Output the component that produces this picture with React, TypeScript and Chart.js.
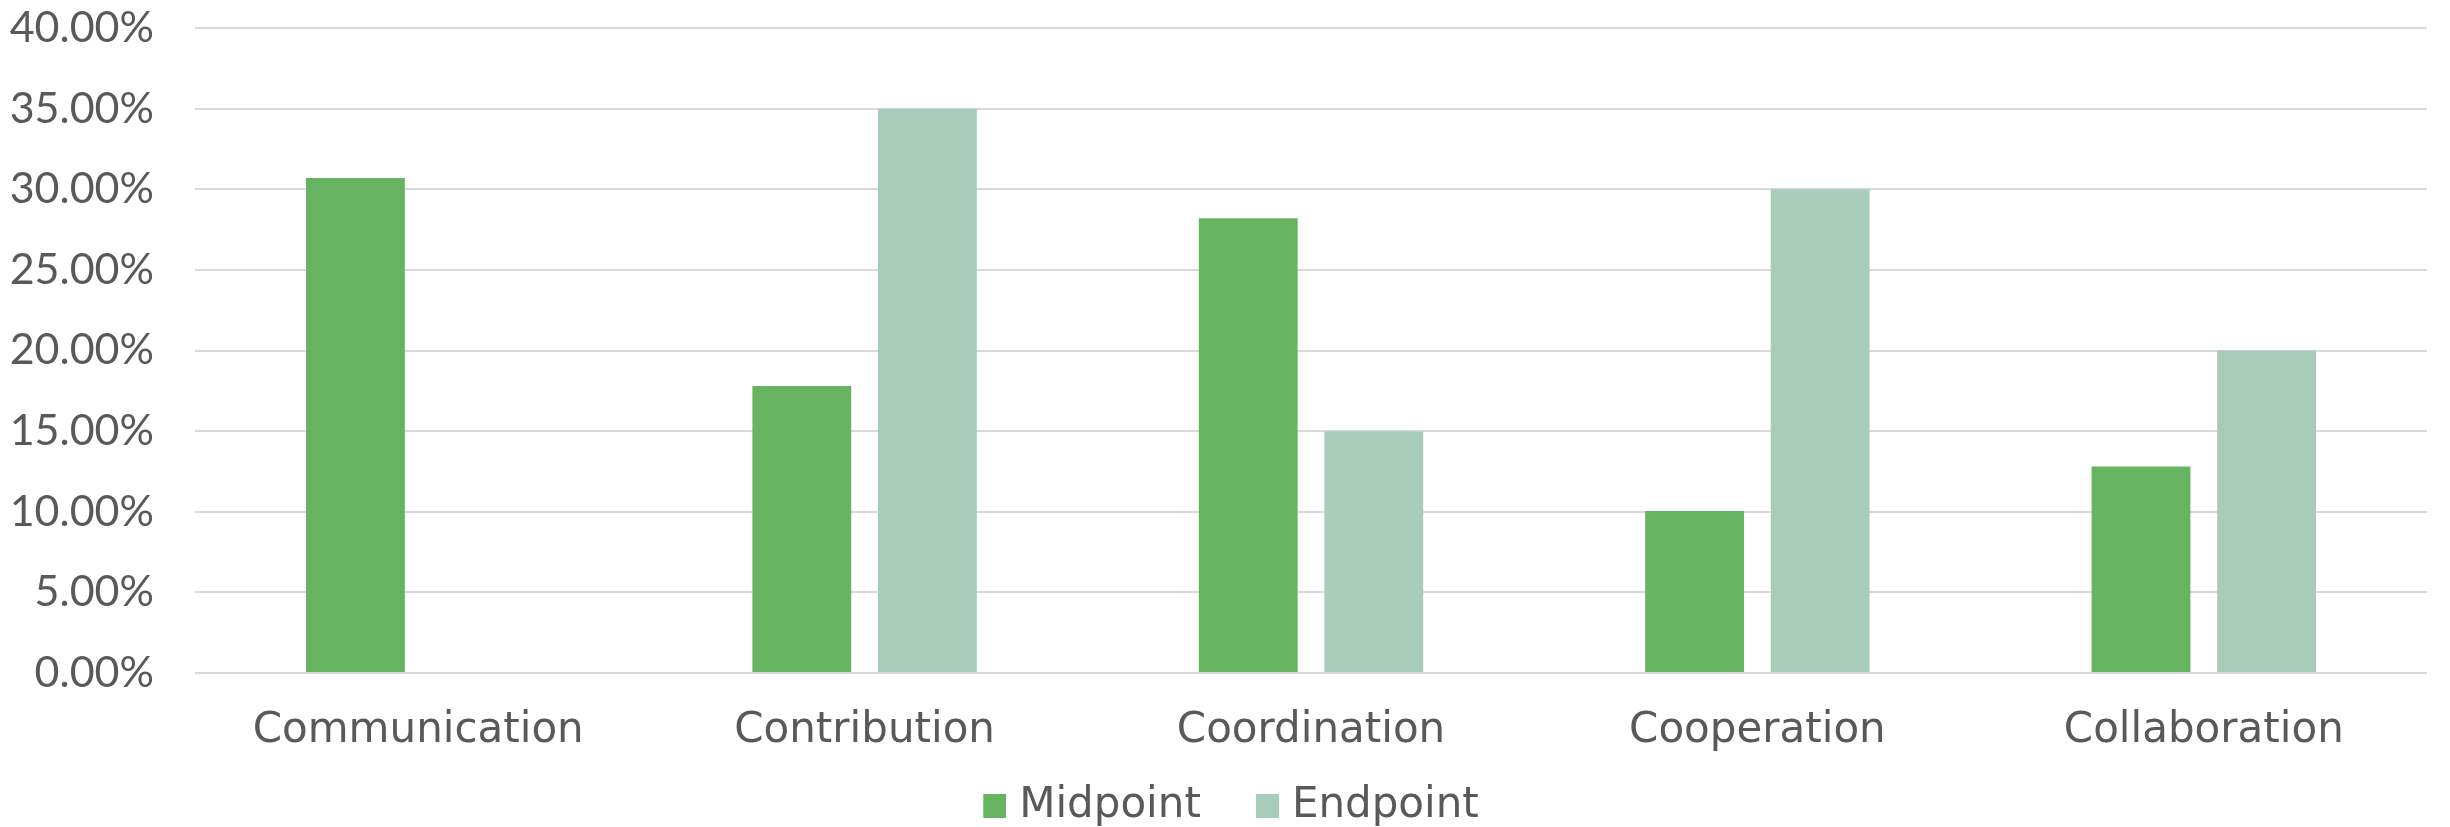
import React, { useEffect, useRef } from "react";
import { Chart, registerables } from "chart.js";

Chart.register(...registerables);

const categories = ["Communication", "Contribution", "Coordination", "Cooperation", "Collaboration"];
const seriesNames = ["Midpoint", "Endpoint"];
const midpointValues = [0.307, 0.178, 0.282, 0.1005, 0.128];
const endpointValues = [null, 0.35, 0.15, 0.3, 0.2];
const seriesColors = ["#66B462", "#A7CDBA"];
const yTickMin = 0;
const yTickMax = 0.4;
const yTickStep = 0.05;

const LABEL_FONT = "DejaVu Sans";
const TICK_FONT = "Lato";
const TEXT_COLOR = "#595959";

function makeLegendSwatch(color: string) {
  const c = document.createElement("canvas");
  c.width = 66;
  c.height = 24;
  const ctx = c.getContext("2d")!;
  ctx.fillStyle = color;
  ctx.fillRect(43, 0, 23, 24);
  return c;
}

export default function App() {
  const ref = useRef<HTMLCanvasElement | null>(null);
  useEffect(() => {
    if (!ref.current) return;
    const swatches = seriesColors.map(makeLegendSwatch);
    const chart = new Chart(ref.current, {
      type: "bar",
      data: {
        labels: categories,
        datasets: [
          { label: seriesNames[0], data: midpointValues, backgroundColor: seriesColors[0], borderWidth: 0 },
          { label: seriesNames[1], data: endpointValues as any, backgroundColor: seriesColors[1], borderWidth: 0 },
        ],
      },
      options: {
        animation: false,
        responsive: false,
        devicePixelRatio: 1,
        categoryPercentage: 0.5626,
        barPercentage: 0.787,
        layout: { padding: { left: 0, right: 23, top: 28, bottom: -10 } },
        plugins: {
          tooltip: { enabled: false },
          legend: {
            position: "bottom",
            labels: {
              usePointStyle: true,
              pointStyleWidth: 50,
              boxWidth: 50,
              boxHeight: 23,
              padding: 20,
              color: TEXT_COLOR,
              font: { family: LABEL_FONT, size: 42 },
              generateLabels: (chart: any) => {
                const items = Chart.defaults.plugins.legend.labels.generateLabels(chart);
                return items.map((it: any, i: number) => ({ ...it, pointStyle: swatches[i] }));
              },
            },
          },
        },
        scales: {
          x: {
            grid: { display: false },
            border: { display: false },
            ticks: { color: TEXT_COLOR, font: { family: LABEL_FONT, size: 42 }, padding: 25, maxRotation: 0, autoSkip: false },
            afterFit: (s: any) => { s.height = 92; s.paddingLeft = 0; s.paddingRight = 0; },
          },
          y: {
            min: yTickMin,
            max: yTickMax,
            grid: { color: "#D9D9D9", lineWidth: 2, drawTicks: false },
            border: { display: false },
            ticks: {
              stepSize: yTickStep,
              color: TEXT_COLOR,
              font: { family: TICK_FONT, size: 43 },
              padding: 41,
              callback: (v: any) => (Number(v) * 100).toFixed(2) + "%",
            },
            afterFit: (s: any) => { s.width = 195; s.paddingTop = 0; s.paddingBottom = 0; },
          },
        },
      },
    });
    return () => chart.destroy();
  }, []);
  return (
    <div style={{ position: "fixed", left: 0, top: 0, width: 2450, height: 827, background: "#fff" }}>
      <canvas ref={ref} width={2450} height={827} />
    </div>
  );
}
